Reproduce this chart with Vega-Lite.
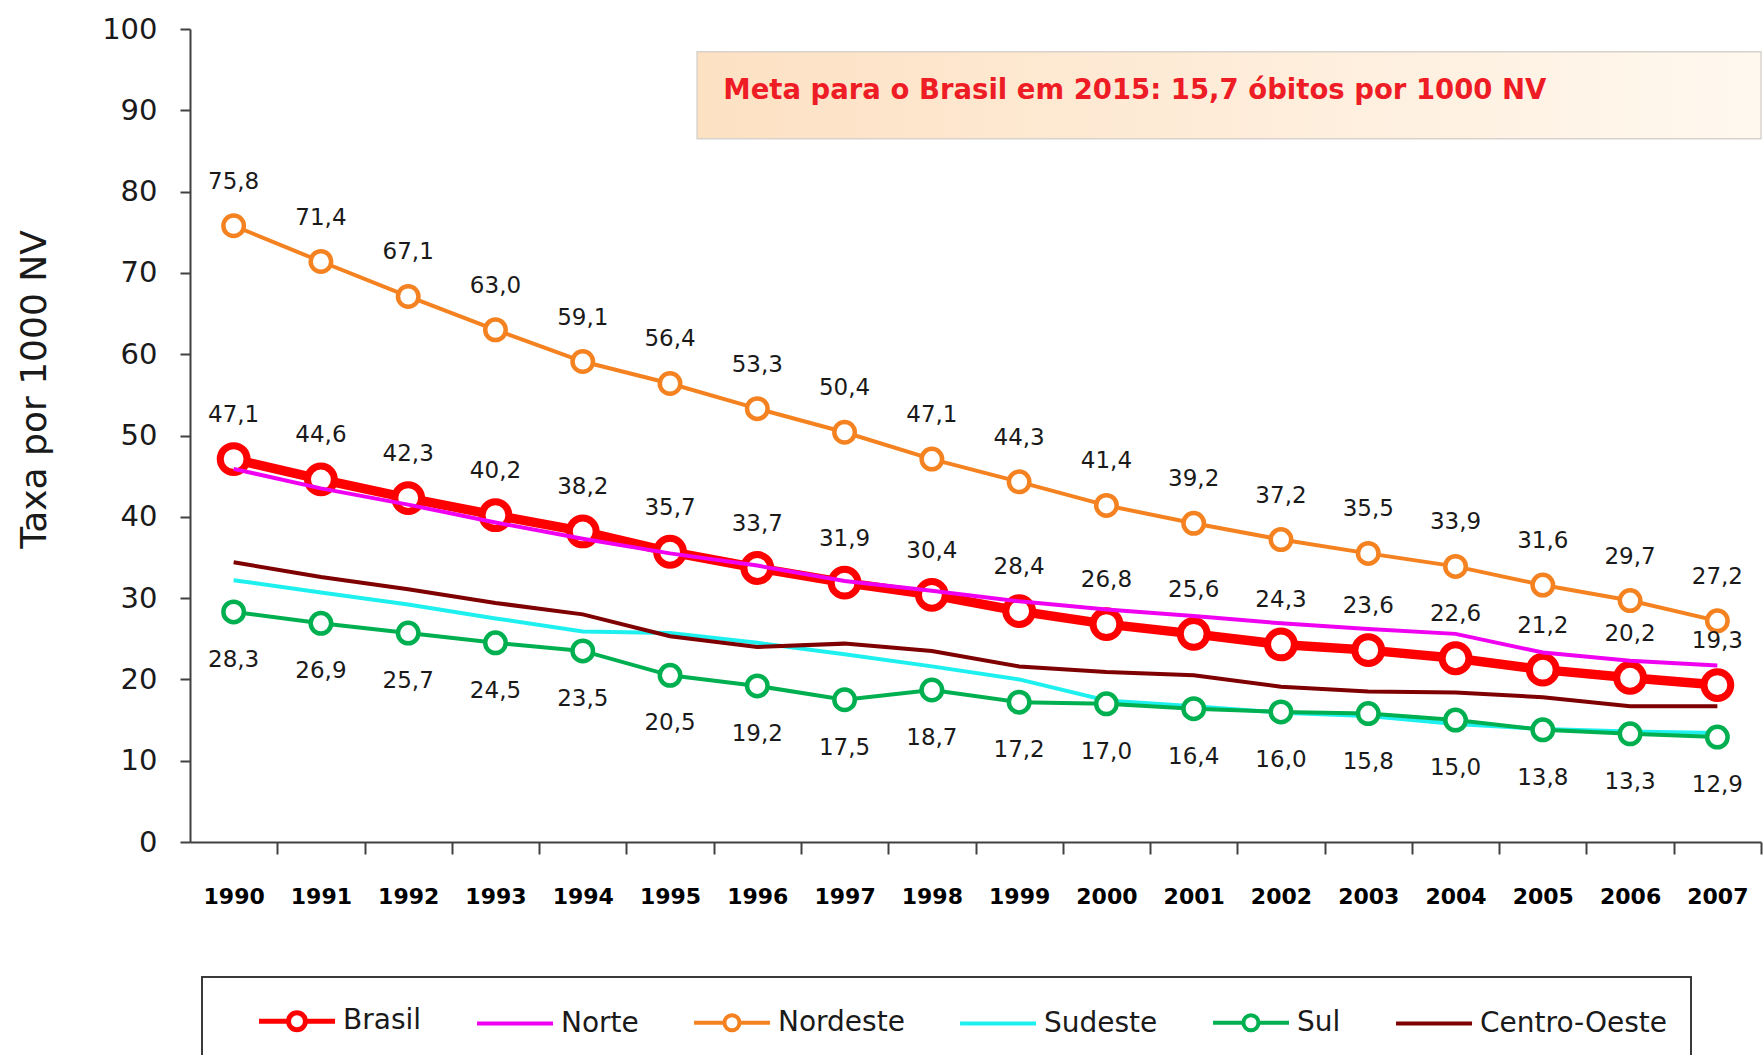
{
  "$schema": "https://vega.github.io/schema/vega-lite/v6.json",
  "width": 1571,
  "height": 813,
  "autosize": {"type": "none"},
  "padding": {"left": 190, "top": 29, "right": 2, "bottom": 213},
  "background": "white",
  "config": {
    "view": {"stroke": null},
    "locale": {"number": {"decimal": ",", "thousands": ".", "grouping": [3], "currency": ["R$", ""]}}
  },
  "datasets": {
    "note": [{"x1": 1995.31, "x2": 2007.5, "y1": 86.5, "y2": 97.2, "tx": 1995.61, "ty": 92.4, "text": "Meta para o Brasil em 2015: 15,7 óbitos por 1000 NV"}],
    "rates": [
      {"year": 1990, "series": "Brasil", "value": 47.1}, {"year": 1991, "series": "Brasil", "value": 44.6}, {"year": 1992, "series": "Brasil", "value": 42.3}, {"year": 1993, "series": "Brasil", "value": 40.2}, {"year": 1994, "series": "Brasil", "value": 38.2}, {"year": 1995, "series": "Brasil", "value": 35.7}, {"year": 1996, "series": "Brasil", "value": 33.7}, {"year": 1997, "series": "Brasil", "value": 31.9}, {"year": 1998, "series": "Brasil", "value": 30.4}, {"year": 1999, "series": "Brasil", "value": 28.4}, {"year": 2000, "series": "Brasil", "value": 26.8}, {"year": 2001, "series": "Brasil", "value": 25.6}, {"year": 2002, "series": "Brasil", "value": 24.3}, {"year": 2003, "series": "Brasil", "value": 23.6}, {"year": 2004, "series": "Brasil", "value": 22.6}, {"year": 2005, "series": "Brasil", "value": 21.2}, {"year": 2006, "series": "Brasil", "value": 20.2}, {"year": 2007, "series": "Brasil", "value": 19.3},
      {"year": 1990, "series": "Norte", "value": 45.9}, {"year": 1991, "series": "Norte", "value": 43.5}, {"year": 1992, "series": "Norte", "value": 41.5}, {"year": 1993, "series": "Norte", "value": 39.3}, {"year": 1994, "series": "Norte", "value": 37.3}, {"year": 1995, "series": "Norte", "value": 35.5}, {"year": 1996, "series": "Norte", "value": 34.0}, {"year": 1997, "series": "Norte", "value": 32.1}, {"year": 1998, "series": "Norte", "value": 30.9}, {"year": 1999, "series": "Norte", "value": 29.6}, {"year": 2000, "series": "Norte", "value": 28.6}, {"year": 2001, "series": "Norte", "value": 27.8}, {"year": 2002, "series": "Norte", "value": 26.9}, {"year": 2003, "series": "Norte", "value": 26.2}, {"year": 2004, "series": "Norte", "value": 25.6}, {"year": 2005, "series": "Norte", "value": 23.3}, {"year": 2006, "series": "Norte", "value": 22.3}, {"year": 2007, "series": "Norte", "value": 21.7},
      {"year": 1990, "series": "Nordeste", "value": 75.8}, {"year": 1991, "series": "Nordeste", "value": 71.4}, {"year": 1992, "series": "Nordeste", "value": 67.1}, {"year": 1993, "series": "Nordeste", "value": 63.0}, {"year": 1994, "series": "Nordeste", "value": 59.1}, {"year": 1995, "series": "Nordeste", "value": 56.4}, {"year": 1996, "series": "Nordeste", "value": 53.3}, {"year": 1997, "series": "Nordeste", "value": 50.4}, {"year": 1998, "series": "Nordeste", "value": 47.1}, {"year": 1999, "series": "Nordeste", "value": 44.3}, {"year": 2000, "series": "Nordeste", "value": 41.4}, {"year": 2001, "series": "Nordeste", "value": 39.2}, {"year": 2002, "series": "Nordeste", "value": 37.2}, {"year": 2003, "series": "Nordeste", "value": 35.5}, {"year": 2004, "series": "Nordeste", "value": 33.9}, {"year": 2005, "series": "Nordeste", "value": 31.6}, {"year": 2006, "series": "Nordeste", "value": 29.7}, {"year": 2007, "series": "Nordeste", "value": 27.2},
      {"year": 1990, "series": "Sudeste", "value": 32.2}, {"year": 1991, "series": "Sudeste", "value": 30.7}, {"year": 1992, "series": "Sudeste", "value": 29.2}, {"year": 1993, "series": "Sudeste", "value": 27.5}, {"year": 1994, "series": "Sudeste", "value": 25.9}, {"year": 1995, "series": "Sudeste", "value": 25.7}, {"year": 1996, "series": "Sudeste", "value": 24.5}, {"year": 1997, "series": "Sudeste", "value": 23.1}, {"year": 1998, "series": "Sudeste", "value": 21.6}, {"year": 1999, "series": "Sudeste", "value": 20.0}, {"year": 2000, "series": "Sudeste", "value": 17.4}, {"year": 2001, "series": "Sudeste", "value": 16.7}, {"year": 2002, "series": "Sudeste", "value": 15.9}, {"year": 2003, "series": "Sudeste", "value": 15.5}, {"year": 2004, "series": "Sudeste", "value": 14.5}, {"year": 2005, "series": "Sudeste", "value": 13.9}, {"year": 2006, "series": "Sudeste", "value": 13.6}, {"year": 2007, "series": "Sudeste", "value": 13.4},
      {"year": 1990, "series": "Sul", "value": 28.3}, {"year": 1991, "series": "Sul", "value": 26.9}, {"year": 1992, "series": "Sul", "value": 25.7}, {"year": 1993, "series": "Sul", "value": 24.5}, {"year": 1994, "series": "Sul", "value": 23.5}, {"year": 1995, "series": "Sul", "value": 20.5}, {"year": 1996, "series": "Sul", "value": 19.2}, {"year": 1997, "series": "Sul", "value": 17.5}, {"year": 1998, "series": "Sul", "value": 18.7}, {"year": 1999, "series": "Sul", "value": 17.2}, {"year": 2000, "series": "Sul", "value": 17.0}, {"year": 2001, "series": "Sul", "value": 16.4}, {"year": 2002, "series": "Sul", "value": 16.0}, {"year": 2003, "series": "Sul", "value": 15.8}, {"year": 2004, "series": "Sul", "value": 15.0}, {"year": 2005, "series": "Sul", "value": 13.8}, {"year": 2006, "series": "Sul", "value": 13.3}, {"year": 2007, "series": "Sul", "value": 12.9},
      {"year": 1990, "series": "Centro-Oeste", "value": 34.4}, {"year": 1991, "series": "Centro-Oeste", "value": 32.6}, {"year": 1992, "series": "Centro-Oeste", "value": 31.1}, {"year": 1993, "series": "Centro-Oeste", "value": 29.4}, {"year": 1994, "series": "Centro-Oeste", "value": 28.0}, {"year": 1995, "series": "Centro-Oeste", "value": 25.3}, {"year": 1996, "series": "Centro-Oeste", "value": 24.0}, {"year": 1997, "series": "Centro-Oeste", "value": 24.4}, {"year": 1998, "series": "Centro-Oeste", "value": 23.5}, {"year": 1999, "series": "Centro-Oeste", "value": 21.6}, {"year": 2000, "series": "Centro-Oeste", "value": 20.9}, {"year": 2001, "series": "Centro-Oeste", "value": 20.5}, {"year": 2002, "series": "Centro-Oeste", "value": 19.1}, {"year": 2003, "series": "Centro-Oeste", "value": 18.5}, {"year": 2004, "series": "Centro-Oeste", "value": 18.4}, {"year": 2005, "series": "Centro-Oeste", "value": 17.8}, {"year": 2006, "series": "Centro-Oeste", "value": 16.7}, {"year": 2007, "series": "Centro-Oeste", "value": 16.7}
    ]
  },
  "layer": [
    {
      "data": {"name": "note"},
      "mark": {"type": "rect", "fill": {"gradient": "linear", "x1": 0, "y1": 0, "x2": 1, "y2": 0, "stops": [{"offset": 0, "color": "#fde1c3"}, {"offset": 1, "color": "#fff8ef"}]}, "stroke": "#d8d2cc", "strokeWidth": 1.5},
      "encoding": {
        "x": {"field": "x1", "type": "quantitative", "title": null, "scale": {"domain": [1989.5, 2007.5], "nice": false, "zero": false},
          "axis": {"values": [1990.5, 1991.5, 1992.5, 1993.5, 1994.5, 1995.5, 1996.5, 1997.5, 1998.5, 1999.5, 2000.5, 2001.5, 2002.5, 2003.5, 2004.5, 2005.5, 2006.5, 2007.5], "labelExpr": "'' + floor(datum.value)", "labelOffset": -43.65, "tickSize": 12, "tickWidth": 2, "tickColor": "#404040", "domainColor": "#404040", "domainWidth": 2, "labelFont": "DejaVu Sans", "labelFontWeight": "bold", "labelFontSize": 22, "labelColor": "#000000", "labelPadding": 32, "grid": false, "labelFlush": false, "labelOverlap": false, "labelBound": false}},
        "x2": {"field": "x2"},
        "y": {"field": "y1", "type": "quantitative", "title": "Taxa por 1000 NV", "scale": {"domain": [0, 100], "nice": false, "zero": true},
          "axis": {"values": [0, 10, 20, 30, 40, 50, 60, 70, 80, 90, 100], "tickSize": 10, "tickWidth": 2, "tickColor": "#404040", "domainColor": "#404040", "domainWidth": 2, "labelFont": "DejaVu Sans", "labelFontSize": 29, "labelColor": "#1a1a1a", "labelPadding": 23, "grid": false, "titleFont": "DejaVu Sans", "titleFontSize": 36, "titleFontWeight": "normal", "titleColor": "#1a1a1a", "titleX": -156, "titleY": 360, "titleAngle": -90, "titleAlign": "center", "titleBaseline": "middle"}},
        "y2": {"field": "y2"}
      }
    },
    {
      "data": {"name": "note"},
      "mark": {"type": "text", "align": "left", "baseline": "middle", "font": "DejaVu Sans", "fontWeight": "bold", "fontSize": 27.5, "color": "#ee1c25"},
      "encoding": {
        "x": {"field": "tx", "type": "quantitative", "title": null},
        "y": {"field": "ty", "type": "quantitative", "title": "Taxa por 1000 NV"},
        "text": {"field": "text"}
      }
    },
    {
      "data": {"name": "rates"},
      "transform": [{"filter": "datum.series === 'Brasil'"}],
      "mark": {"type": "line", "strokeWidth": 9.5},
      "encoding": {
        "x": {"field": "year", "type": "quantitative", "title": null},
        "y": {"field": "value", "type": "quantitative", "title": "Taxa por 1000 NV"},
        "color": {"field": "series", "type": "nominal",
          "scale": {"domain": ["Brasil", "Norte", "Nordeste", "Sudeste", "Sul", "Centro-Oeste"], "range": ["#ff0000", "#f000f0", "#f58220", "#1ef0f0", "#00b050", "#7f0000"]},
          "legend": {"title": " ", "titleFontSize": 1, "titlePadding": 5, "titleOrient": "top", "orient": "none", "legendX": 12, "legendY": 948, "direction": "horizontal", "columns": 6, "padding": 24, "strokeColor": "#3a3a3a", "fillColor": "#ffffff", "symbolSize": 1024, "symbolStrokeWidth": 5, "labelOffset": 89, "columnPadding": 22, "labelFont": "DejaVu Sans", "labelFontSize": 28, "labelColor": "#1a1a1a", "labelLimit": 400, "labelBaseline": "middle",
            "encode": {
              "symbols": {"update": {
                "shape": {"signal": "datum.value === 'Brasil' ? 'M1.19,0H3.03M4.09,0H5.94M4.09,0A0.53,0.53,0,1,1,3.03,0A0.53,0.53,0,1,1,4.09,0' : ((datum.value === 'Nordeste' || datum.value === 'Sul') ? 'M1.19,0H3.09M4.03,0H5.94M4.03,0A0.47,0.47,0,1,1,3.09,0A0.47,0.47,0,1,1,4.03,0' : 'M1.19,0H5.94')"},
                "fill": {"value": "#ffffff"},
                "strokeWidth": {"signal": "datum.value === 'Brasil' ? 5 : 4"},
                "opacity": {"value": 1}
              }},
              "legend": {"update": {"strokeWidth": {"value": 2}}}
            }
          }
        }
      }
    },
    {
      "data": {"name": "rates"},
      "transform": [{"filter": "datum.series === 'Brasil'"}],
      "mark": {"type": "point", "shape": "circle", "filled": true, "fill": "#ffffff", "stroke": "#ff0000", "strokeWidth": 7, "size": 720, "opacity": 1},
      "encoding": {
        "x": {"field": "year", "type": "quantitative", "title": null},
        "y": {"field": "value", "type": "quantitative", "title": "Taxa por 1000 NV"}
      }
    },
    {
      "data": {"name": "rates"},
      "transform": [{"filter": "datum.series === 'Norte'"}],
      "mark": {"type": "line", "strokeWidth": 4},
      "encoding": {
        "x": {"field": "year", "type": "quantitative", "title": null},
        "y": {"field": "value", "type": "quantitative", "title": "Taxa por 1000 NV"},
        "color": {"field": "series", "type": "nominal", "scale": {"domain": ["Brasil", "Norte", "Nordeste", "Sudeste", "Sul", "Centro-Oeste"], "range": ["#ff0000", "#f000f0", "#f58220", "#1ef0f0", "#00b050", "#7f0000"]}}
      }
    },
    {
      "data": {"name": "rates"},
      "transform": [{"filter": "datum.series === 'Nordeste'"}],
      "mark": {"type": "line", "strokeWidth": 4},
      "encoding": {
        "x": {"field": "year", "type": "quantitative", "title": null},
        "y": {"field": "value", "type": "quantitative", "title": "Taxa por 1000 NV"},
        "color": {"field": "series", "type": "nominal", "scale": {"domain": ["Brasil", "Norte", "Nordeste", "Sudeste", "Sul", "Centro-Oeste"], "range": ["#ff0000", "#f000f0", "#f58220", "#1ef0f0", "#00b050", "#7f0000"]}}
      }
    },
    {
      "data": {"name": "rates"},
      "transform": [{"filter": "datum.series === 'Nordeste'"}],
      "mark": {"type": "point", "shape": "circle", "filled": true, "fill": "#ffffff", "stroke": "#f58220", "strokeWidth": 4.5, "size": 420, "opacity": 1},
      "encoding": {
        "x": {"field": "year", "type": "quantitative", "title": null},
        "y": {"field": "value", "type": "quantitative", "title": "Taxa por 1000 NV"}
      }
    },
    {
      "data": {"name": "rates"},
      "transform": [{"filter": "datum.series === 'Sudeste'"}],
      "mark": {"type": "line", "strokeWidth": 4},
      "encoding": {
        "x": {"field": "year", "type": "quantitative", "title": null},
        "y": {"field": "value", "type": "quantitative", "title": "Taxa por 1000 NV"},
        "color": {"field": "series", "type": "nominal", "scale": {"domain": ["Brasil", "Norte", "Nordeste", "Sudeste", "Sul", "Centro-Oeste"], "range": ["#ff0000", "#f000f0", "#f58220", "#1ef0f0", "#00b050", "#7f0000"]}}
      }
    },
    {
      "data": {"name": "rates"},
      "transform": [{"filter": "datum.series === 'Sul'"}],
      "mark": {"type": "line", "strokeWidth": 4},
      "encoding": {
        "x": {"field": "year", "type": "quantitative", "title": null},
        "y": {"field": "value", "type": "quantitative", "title": "Taxa por 1000 NV"},
        "color": {"field": "series", "type": "nominal", "scale": {"domain": ["Brasil", "Norte", "Nordeste", "Sudeste", "Sul", "Centro-Oeste"], "range": ["#ff0000", "#f000f0", "#f58220", "#1ef0f0", "#00b050", "#7f0000"]}}
      }
    },
    {
      "data": {"name": "rates"},
      "transform": [{"filter": "datum.series === 'Sul'"}],
      "mark": {"type": "point", "shape": "circle", "filled": true, "fill": "#ffffff", "stroke": "#00b050", "strokeWidth": 4.5, "size": 420, "opacity": 1},
      "encoding": {
        "x": {"field": "year", "type": "quantitative", "title": null},
        "y": {"field": "value", "type": "quantitative", "title": "Taxa por 1000 NV"}
      }
    },
    {
      "data": {"name": "rates"},
      "transform": [{"filter": "datum.series === 'Centro-Oeste'"}],
      "mark": {"type": "line", "strokeWidth": 4},
      "encoding": {
        "x": {"field": "year", "type": "quantitative", "title": null},
        "y": {"field": "value", "type": "quantitative", "title": "Taxa por 1000 NV"},
        "color": {"field": "series", "type": "nominal", "scale": {"domain": ["Brasil", "Norte", "Nordeste", "Sudeste", "Sul", "Centro-Oeste"], "range": ["#ff0000", "#f000f0", "#f58220", "#1ef0f0", "#00b050", "#7f0000"]}}
      }
    },
    {
      "data": {"name": "rates"},
      "transform": [{"filter": "datum.series === 'Brasil' || datum.series === 'Nordeste'"}],
      "mark": {"type": "text", "dy": -44, "baseline": "middle", "align": "center", "font": "DejaVu Sans", "fontSize": 23, "color": "#1a1a1a"},
      "encoding": {
        "x": {"field": "year", "type": "quantitative", "title": null},
        "y": {"field": "value", "type": "quantitative", "title": "Taxa por 1000 NV"},
        "text": {"field": "value", "type": "quantitative", "format": ".1f"}
      }
    },
    {
      "data": {"name": "rates"},
      "transform": [{"filter": "datum.series === 'Sul'"}],
      "mark": {"type": "text", "dy": 48, "baseline": "middle", "align": "center", "font": "DejaVu Sans", "fontSize": 23, "color": "#1a1a1a"},
      "encoding": {
        "x": {"field": "year", "type": "quantitative", "title": null},
        "y": {"field": "value", "type": "quantitative", "title": "Taxa por 1000 NV"},
        "text": {"field": "value", "type": "quantitative", "format": ".1f"}
      }
    }
  ]
}
